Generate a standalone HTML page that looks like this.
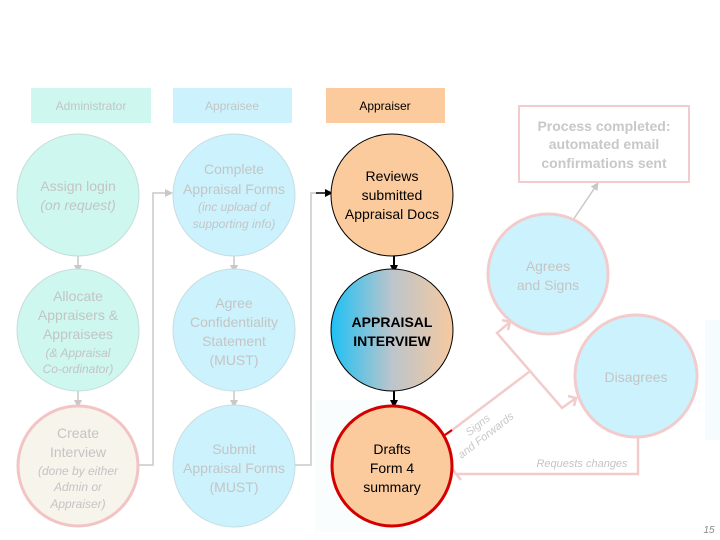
<!DOCTYPE html>
<html><head><meta charset="utf-8"><style>
html,body{margin:0;padding:0;background:#fff;}
svg{display:block;font-family:"Liberation Sans",Arial,sans-serif;}
</style></head><body>
<svg width="720" height="540" viewBox="0 0 720 540" xmlns="http://www.w3.org/2000/svg">
<defs>
<linearGradient id="g" x1="0" x2="1" y1="0" y2="0">
<stop offset="0" stop-color="#1ec0f4"/><stop offset="0.5" stop-color="#bcc5cb"/><stop offset="1" stop-color="#f6c9a0"/>
</linearGradient>
<marker id="ag" markerWidth="8" markerHeight="8" refX="7" refY="4" orient="auto" markerUnits="userSpaceOnUse"><path d="M0,0 L8,4 L0,8 z" fill="#c8c8c8"/></marker>
<marker id="ab" markerWidth="8" markerHeight="8" refX="7" refY="4" orient="auto" markerUnits="userSpaceOnUse"><path d="M0,0 L8,4 L0,8 z" fill="#000"/></marker>
<marker id="ap" markerWidth="10" markerHeight="10" refX="8" refY="5" orient="auto" markerUnits="userSpaceOnUse"><path d="M0,0 L8,5 L0,10" fill="none" stroke="#f2cccc" stroke-width="2"/></marker>
</defs>
<rect x="705" y="320" width="15" height="120" fill="#f6fcfe"/>
<rect x="315" y="400" width="95" height="132" fill="#fafdfe"/>
<!-- headers -->
<rect x="31" y="88" width="120" height="35" fill="#cdf7ef"/>
<text x="91" y="110" font-size="12" fill="#c4c4c4" text-anchor="middle">Administrator</text>
<rect x="173" y="88" width="119" height="35" fill="#ccf3fd"/>
<text x="232" y="110" font-size="12" fill="#c4c4c4" text-anchor="middle">Appraisee</text>
<rect x="326" y="88" width="119" height="35" fill="#fbcb9d"/>
<text x="385" y="110" font-size="12" fill="#000" text-anchor="middle">Appraiser</text>
<!-- connectors -->
<g stroke="#c8c8c8" stroke-width="1.5" fill="none">
<line x1="78" y1="253" x2="78" y2="272" marker-end="url(#ag)"/>
<line x1="78" y1="388" x2="78" y2="407" marker-end="url(#ag)"/>
<line x1="234" y1="253" x2="234" y2="272" marker-end="url(#ag)"/>
<line x1="234" y1="388" x2="234" y2="407" marker-end="url(#ag)"/>
<polyline points="138,465 153,465 153,193 172,193" marker-end="url(#ag)"/>
<polyline points="295,465 311,465 311,193 318,193"/>
<line x1="573" y1="220" x2="598" y2="183" marker-end="url(#ag)"/>
</g>
<line x1="316" y1="193" x2="332" y2="193" stroke="#000" stroke-width="1.5" marker-end="url(#ab)"/>
<line x1="394" y1="253" x2="394" y2="272" stroke="#000" stroke-width="2" marker-end="url(#ab)"/>
<line x1="394" y1="388" x2="394" y2="407" stroke="#000" stroke-width="2" marker-end="url(#ab)"/>
<g stroke="#f2cccc" stroke-width="2.5" fill="none">
<line x1="447" y1="434" x2="529" y2="372"/>
<polyline points="510,322 497,333 562,408 576,398"/>
<polyline points="638,434 638,474 456,474"/>
<polyline points="452,468 456,474 461,480"/>
<polyline points="502,320 510,322 508,330"/>
<polyline points="568,396 576,398 574,406"/>
</g>
<line x1="442" y1="437" x2="452" y2="430" stroke="#d40000" stroke-width="2"/>
<!-- col1 -->
<circle cx="78" cy="195" r="61" fill="#cdf7ef" stroke="#c6dcd8" stroke-width="1"/>
<text text-anchor="middle" font-size="14" fill="#c4c4c4"><tspan x="78" y="191">Assign login</tspan><tspan x="78" y="210" font-style="italic">(on request)</tspan></text>
<circle cx="78" cy="330" r="61" fill="#cdf7ef" stroke="#c6dcd8" stroke-width="1"/>
<text text-anchor="middle" font-size="14" fill="#c4c4c4"><tspan x="78" y="301">Allocate</tspan><tspan x="78" y="320">Appraisers &amp;</tspan><tspan x="78" y="339">Appraisees</tspan></text>
<text text-anchor="middle" font-size="12" font-style="italic" fill="#c4c4c4"><tspan x="78" y="357">(&amp; Appraisal</tspan><tspan x="78" y="373">Co-ordinator)</tspan></text>
<circle cx="78" cy="466" r="60" fill="#f7f4ec" stroke="#f2c4c4" stroke-width="3"/>
<text text-anchor="middle" font-size="14" fill="#c4c4c4"><tspan x="78" y="438">Create</tspan><tspan x="78" y="457">Interview</tspan></text>
<text text-anchor="middle" font-size="12" font-style="italic" fill="#c4c4c4"><tspan x="78" y="475">(done by either</tspan><tspan x="78" y="491">Admin or</tspan><tspan x="78" y="508">Appraiser)</tspan></text>
<!-- col2 -->
<circle cx="234" cy="195" r="61" fill="#ccf3fd" stroke="#c6dce2" stroke-width="1"/>
<text text-anchor="middle" font-size="14" fill="#c4c4c4"><tspan x="234" y="174">Complete</tspan><tspan x="234" y="194">Appraisal Forms</tspan></text>
<text text-anchor="middle" font-size="12" font-style="italic" fill="#c4c4c4"><tspan x="234" y="211">(inc upload of</tspan><tspan x="234" y="228">supporting info)</tspan></text>
<circle cx="234" cy="330" r="61" fill="#ccf3fd" stroke="#c6dce2" stroke-width="1"/>
<text text-anchor="middle" font-size="14" fill="#c4c4c4"><tspan x="234" y="308">Agree</tspan><tspan x="234" y="327">Confidentiality</tspan><tspan x="234" y="346">Statement</tspan><tspan x="234" y="365">(MUST)</tspan></text>
<circle cx="234" cy="466" r="61" fill="#ccf3fd" stroke="#c6dce2" stroke-width="1"/>
<text text-anchor="middle" font-size="14" fill="#c4c4c4"><tspan x="234" y="454">Submit</tspan><tspan x="234" y="473">Appraisal Forms</tspan><tspan x="234" y="492">(MUST)</tspan></text>
<!-- col3 -->
<circle cx="392" cy="195" r="61" fill="#fbcb9d" stroke="#000" stroke-width="1"/>
<text text-anchor="middle" font-size="14" fill="#000"><tspan x="392" y="181">Reviews</tspan><tspan x="392" y="200">submitted</tspan><tspan x="392" y="219">Appraisal Docs</tspan></text>
<circle cx="392" cy="330" r="61" fill="url(#g)" stroke="#000" stroke-width="1"/>
<text text-anchor="middle" font-size="14" font-weight="bold" fill="#000"><tspan x="392" y="327">APPRAISAL</tspan><tspan x="392" y="346">INTERVIEW</tspan></text>
<circle cx="392" cy="466" r="60" fill="#fbcb9d" stroke="#d40000" stroke-width="3"/>
<text text-anchor="middle" font-size="14" fill="#000"><tspan x="392" y="454">Drafts</tspan><tspan x="392" y="473">Form 4</tspan><tspan x="392" y="492">summary</tspan></text>
<!-- right -->
<rect x="519" y="106" width="170" height="76" fill="#fff" stroke="#f2cccc" stroke-width="2"/>
<text text-anchor="middle" font-size="14" font-weight="bold" fill="#c8c8c8"><tspan x="604" y="131">Process completed:</tspan><tspan x="604" y="149">automated email</tspan><tspan x="604" y="168">confirmations sent</tspan></text>
<circle cx="548" cy="274" r="60" fill="#ccf3fd" stroke="#f2cccc" stroke-width="3"/>
<text text-anchor="middle" font-size="14" fill="#c4c4c4"><tspan x="548" y="271">Agrees</tspan><tspan x="548" y="290">and Signs</tspan></text>
<circle cx="636" cy="376" r="61" fill="#ccf3fd" stroke="#f2cccc" stroke-width="3"/>
<text x="636" y="382" text-anchor="middle" font-size="14" fill="#c4c4c4">Disagrees</text>
<text transform="translate(480,428) rotate(-38)" font-size="11" font-style="italic" fill="#c8c8c8" text-anchor="middle"><tspan x="0" y="0">Signs</tspan><tspan x="0" y="13">and Forwards</tspan></text>
<text x="582" y="467" text-anchor="middle" font-size="11" font-style="italic" fill="#c4c4c4">Requests changes</text>
<text x="709" y="533" text-anchor="middle" font-size="10" font-style="italic" fill="#888">15</text>
</svg>
</body></html>
